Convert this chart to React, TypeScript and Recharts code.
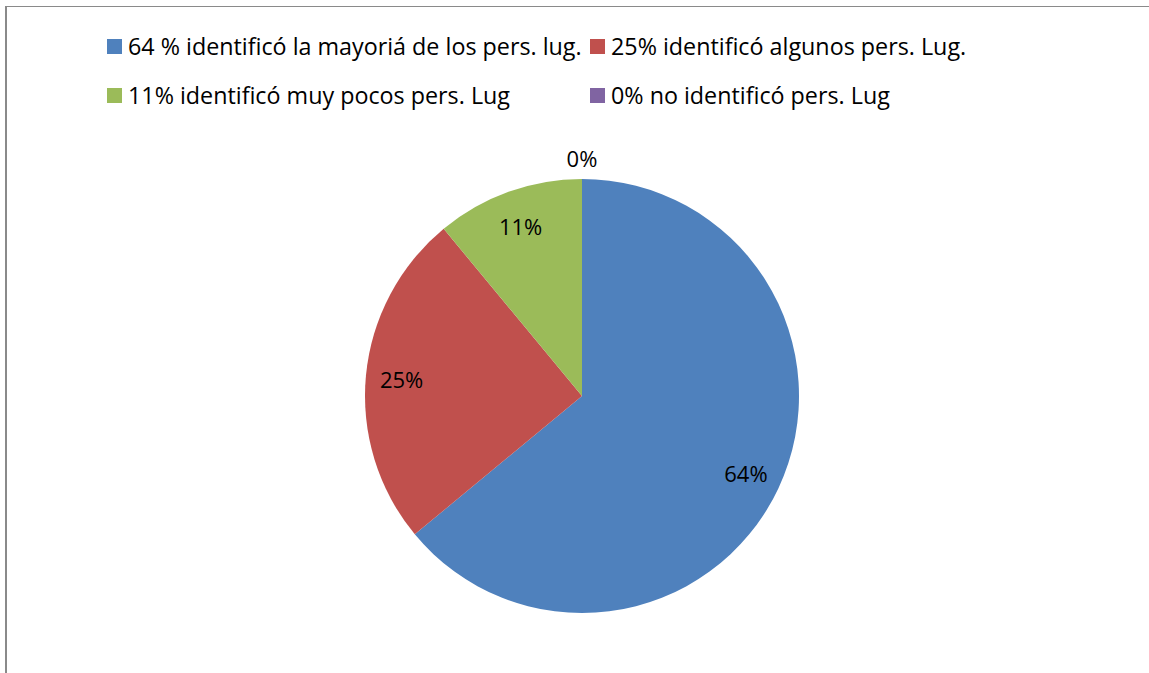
import { Legend, Pie, PieChart } from "recharts"

const categories = [
  "64 % identificó la mayoriá de los pers. lug.",
  "25% identificó algunos pers. Lug.",
  "11% identificó muy pocos pers. Lug",
  "0% no identificó pers. Lug",
]
const values = [64, 25, 11, 0]
const labels = ["64%", "25%", "11%", "0%"]
const COLORS = ["#4F81BD", "#C0504D", "#9BBB59", "#8064A2"]

const data = categories.map((name, i) => ({ name, value: values[i], label: labels[i], fill: COLORS[i] }))

const FONT = "'Open Sans', 'Noto Sans', sans-serif"
const RAD = Math.PI / 180

// legend slots: two columns, two rows
const legendCols = [107, 590]
const legendRows = [46, 95]

function LegendBox() {
  return (
    <div style={{ position: "absolute", left: 0, top: 0, width: 1149, height: 120 }}>
      {data.map((d, i) => (
        <div
          key={d.name}
          style={{
            position: "absolute",
            left: legendCols[i % 2],
            top: legendRows[Math.floor(i / 2)] - 15,
            height: 30,
            display: "flex",
            alignItems: "center",
            whiteSpace: "nowrap",
            fontFamily: FONT,
            fontSize: 23.3,
            color: "#000",
          }}
        >
          <span style={{ width: 15, height: 15, background: d.fill, marginRight: 6, display: "inline-block" }} />
          {d.name}
        </div>
      ))}
    </div>
  )
}

function renderLabel(props: any) {
  const { cx, cy, midAngle, outerRadius, index } = props
  const r = values[index] === 0 ? outerRadius + 21 : outerRadius * 0.835
  const x = cx + r * Math.cos(-midAngle * RAD)
  const y = cy + r * Math.sin(-midAngle * RAD)
  return (
    <text
      x={x}
      y={y}
      textAnchor="middle"
      dominantBaseline="central"
      fill="#000"
      fontFamily={FONT}
      fontSize={22}
    >
      {labels[index]}
    </text>
  )
}

export default function App() {
  return (
    <div style={{ position: "absolute", left: 0, top: 0, width: 1149, height: 673, background: "#fff", overflow: "hidden" }}>
      <div
        style={{
          position: "absolute",
          left: 5,
          top: 6,
          width: 1200,
          height: 700,
          borderLeft: "2px solid #8a8a8a",
          borderTop: "1px solid #8a8a8a",
        }}
      />
      <PieChart
        width={1149}
        height={673}
        margin={{ top: 0, right: 0, bottom: 0, left: 0 }}
        style={{ position: "absolute", left: 0, top: 0 }}
      >
        <Pie
          data={data}
          dataKey="value"
          nameKey="name"
          cx={582}
          cy={396}
          outerRadius={217}
          startAngle={90}
          endAngle={-270}
          stroke="none"
          labelLine={false}
          label={renderLabel}
          isAnimationActive={false}
        />
        <Legend content={() => <LegendBox />} wrapperStyle={{ position: "absolute", left: 0, top: 0, width: 1149 }} />
      </PieChart>
    </div>
  )
}
